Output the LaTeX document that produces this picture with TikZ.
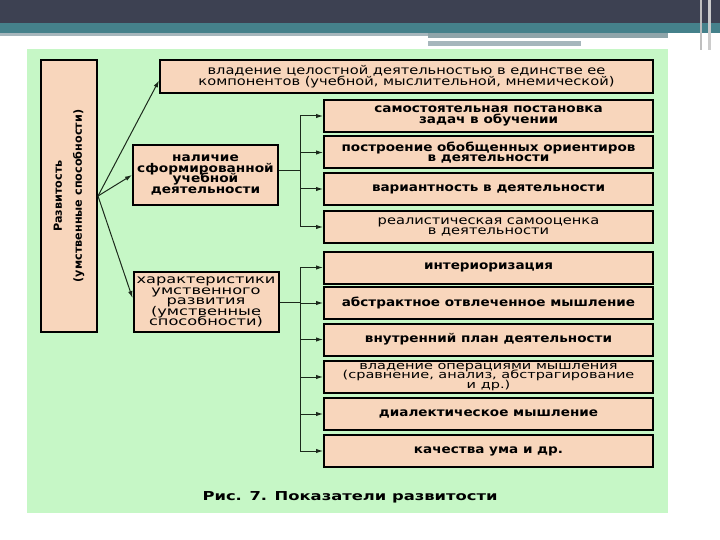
\documentclass[tikz,border=0pt]{standalone}
\usepackage{fontspec}
\setmainfont{DejaVu Sans}
\newfontfamily\fr[FakeStretch=1.22]{DejaVu Sans}
\newfontfamily\fre[FakeStretch=1.32]{DejaVu Sans}
\newfontfamily\fb[FakeStretch=1.13]{DejaVu Sans Bold}
\newfontfamily\fm[FakeStretch=1.14]{DejaVu Sans Bold}
\newfontfamily\fw[FakeStretch=1.35]{DejaVu Sans}
\newfontfamily\fc[FakeStretch=1.33]{DejaVu Sans Bold}
\newfontfamily\fbn{DejaVu Sans Bold}
\newcommand\tight{\lineskiplimit=-50pt\lineskip=0pt}
\usetikzlibrary{arrows.meta}
\definecolor{panelgreen}{HTML}{C6F7C6}
\definecolor{peach}{HTML}{F8D6BC}
\definecolor{hdark}{HTML}{3D4152}
\definecolor{hteal}{HTML}{45818B}
\definecolor{hgray}{HTML}{A6B6BC}
\definecolor{hgray2}{HTML}{8FA5AA}
\definecolor{connc}{HTML}{1C2A1C}
\begin{document}
\begin{tikzpicture}[x=1pt,y=-1pt,
  box/.style={draw=black,line width=2pt,fill=peach,inner sep=0pt,align=center,
    font=\fr\fontsize{12}{10.5}\selectfont\tight},
  boldbox/.style={box,font=\fb\fontsize{12}{10.5}\selectfont\tight},
  rsize/.style={minimum width=329pt,minimum height=32pt},
  msize/.style={minimum width=145pt,minimum height=60pt},
  conn/.style={line width=1pt,draw=connc},
  arr/.style={conn,-{Latex[length=7pt,width=4.5pt]}}]
\useasboundingbox (0,0) rectangle (720,540);
% header
\fill[white] (0,0) rectangle (720,540);
\fill[hdark] (0,0) rectangle (720,23);
\fill[hteal] (0,23) rectangle (720,33);
\fill[hgray] (0,33) rectangle (428,36);
\fill[hgray2] (428,33) rectangle (668,38);
\fill[white] (430,38) rectangle (668,41);
\fill[hgray] (428,41) rectangle (581,46);
\fill[black!25] (700,0) rectangle (702,50);
\fill[black!20] (708,0) rectangle (711,50);
% panel
\fill[panelgreen] (27,49) rectangle (668,513);
% left tall box
\node[box,minimum width=56pt,minimum height=272pt] (L) at (69,196) {};
\node[rotate=90,align=center,font=\fbn\fontsize{11.2}{20}\selectfont] (Lt) at (L.center) {Развитость\\(умственные способности)};
% top box
\node[box,minimum width=493pt,minimum height=33pt] (T) at (406.5,76.5)
  {владение целостной деятельностью в единстве ее\\компонентов (учебной, мыслительной, мнемической)};
% middle boxes
\node[box,msize,font=\fm\fontsize{12}{10.7}\selectfont\tight] (M1) at (205.5,175) {наличие\\сформированной\\учебной\\деятельности};
\node[box,msize,font=\fw\fontsize{12}{10.5}\selectfont\tight] (M2) at (206,302) {характеристики\\умственного\\развития\\(умственные\\способности)};
% right boxes
\node[boldbox,rsize] (R1) at (488.5,116) {самостоятельная постановка\\задач в обучении};
\node[boldbox,rsize] (R2) at (488.5,152.5) {построение обобщенных ориентиров\\в деятельности};
\node[boldbox,rsize] (R3) at (488.5,189) {вариантность в деятельности};
\node[box,rsize] (R4) at (488.5,227) {реалистическая самооценка\\в деятельности};
\node[boldbox,rsize] (R5) at (488.5,267.5) {интериоризация};
\node[boldbox,rsize] (R6) at (488.5,303) {абстрактное отвлеченное мышление};
\node[boldbox,rsize] (R7) at (488.5,339.5) {внутренний план деятельности};
\node[box,rsize,font=\fre\fontsize{11}{9.8}\selectfont\tight] (R8) at (488.5,377) {владение операциями мышления\\(сравнение, анализ, абстрагирование\\и др.)};
\node[boldbox,rsize] (R9) at (488.5,414) {диалектическое мышление};
\node[boldbox,rsize] (R10) at (488.5,451) {качества ума и др.};
% caption
\node[font=\fc\fontsize{12.3}{14}\selectfont] (cap) at (350,497) {Рис. 7. Показатели развитости};
% arrows from L
\draw[arr] (L.east) -- ([yshift=-4pt]T.west);
\draw[arr] (L.east) -- (M1.west);
\draw[arr] (L.east) -- ([yshift=4pt]M2.west);
% trees
\coordinate (bus) at (300,0);
\coordinate (m1e) at ([yshift=4pt]M1.east);
\draw[conn] (m1e) -- (bus |- m1e);
\draw[conn] (bus |- R1.west) -- (bus |- R4.west);
\foreach \r in {R1,R2,R3,R4} \draw[arr] (bus |- \r.west) -- (\r.west);
\draw[conn] (M2.east) -- (bus |- M2.east);
\draw[conn] (bus |- R5.west) -- (bus |- R10.west);
\foreach \r in {R5,R6,R7,R8,R9,R10} \draw[arr] (bus |- \r.west) -- (\r.west);
\end{tikzpicture}
\end{document}
